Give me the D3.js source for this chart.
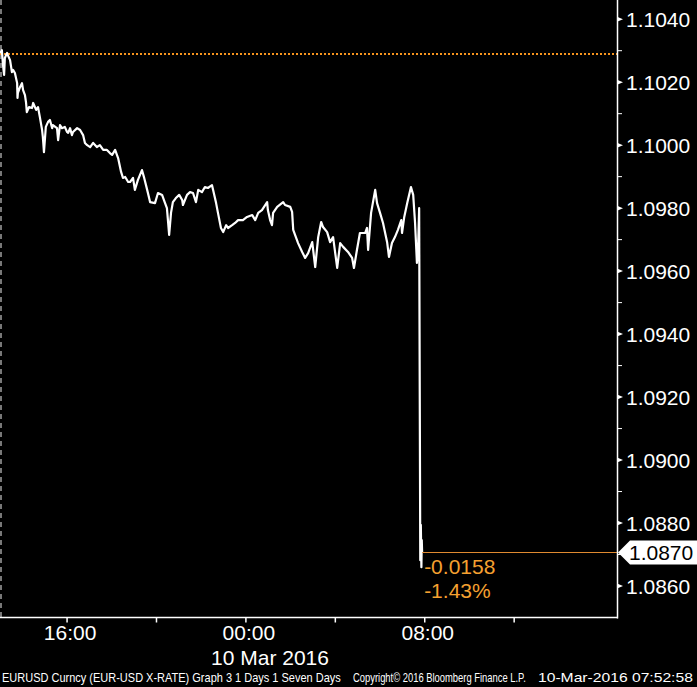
<!DOCTYPE html>
<html>
<head>
<meta charset="utf-8">
<script src="https://cdn.jsdelivr.net/npm/d3@7"></script>
<style>
  html, body { margin: 0; padding: 0; background: #000; }
  svg { display: block; }
</style>
</head>
<body>
<script>
// ---- Data ----
// minutes after 2016-03-09 13:00 (terminal local time)
const minutes = [0,5,8,11,13,19,21,27,32,35,
40,46,47,48,54,59,62,67,70,72,
78,86,89,97,102,107,113,115,118,123,
129,134,140,142,153,156,161,166,174,180,
183,188,193,196,207,215,223,228,234,242,
250,260,268,277,287,295,301,309,317,325,
330,336,344,349,357,362,370,381,387,395,
403,416,424,435,443,448,454,459,464,472,
481,489,491,502,510,518,526,532,542,550,
558,569,572,580,585,593,599,607,612,623,
631,639,652,663,677,685,693,703,717,719,
725,730,733,744,760,765,779,784,787,800,
811,819,827,838,846,854,862,867,878,886,
894,905,913,921,934,945,950,958,966,980,
985,988,996,1007,1012,1020,1028,1039,1044,1052,
1060,1068,1077,1079,1085,1093,1103,1109,1114,1119,
1122,1125,1128,1129.5,1131,1132,1133];

const rates = [1.10293,1.10302,1.10255,1.10223,1.10277,1.10293,1.10286,1.10270,1.10232,1.10239,
1.10229,1.10197,1.10150,1.10166,1.10185,1.10197,1.10175,1.10159,1.10134,1.10105,
1.10121,1.10118,1.10134,1.10112,1.10121,1.10089,1.10048,1.10026,1.09978,1.10058,
1.10074,1.10080,1.10054,1.10064,1.10054,1.10016,1.10064,1.10054,1.10058,1.10042,
1.10039,1.10054,1.10032,1.10042,1.10054,1.10048,1.10032,1.10007,1.10000,1.09994,
1.10007,1.09994,1.10000,1.09985,1.09985,1.09975,1.09969,1.09985,1.09959,1.09915,
1.09896,1.09899,1.09883,1.09883,1.09896,1.09858,1.09889,1.09921,1.09896,1.09858,
1.09819,1.09816,1.09848,1.09842,1.09816,1.09800,1.09715,1.09785,1.09819,1.09832,
1.09842,1.09826,1.09810,1.09842,1.09851,1.09848,1.09819,1.09858,1.09851,1.09867,
1.09864,1.09873,1.09858,1.09816,1.09785,1.09737,1.09724,1.09746,1.09737,1.09746,
1.09753,1.09762,1.09762,1.09772,1.09778,1.09762,1.09785,1.09794,1.09819,1.09794,
1.09762,1.09746,1.09785,1.09804,1.09819,1.09810,1.09804,1.09788,1.09731,1.09689,
1.09661,1.09642,1.09657,1.09692,1.09613,1.09708,1.09756,1.09740,1.09724,1.09692,
1.09708,1.09610,1.09689,1.09677,1.09661,1.09642,1.09610,1.09667,1.09721,1.09721,
1.09737,1.09667,1.09785,1.09858,1.09816,1.09785,1.09753,1.09692,1.09645,1.09689,
1.09708,1.09731,1.09762,1.09721,1.09772,1.09816,1.09867,1.09842,1.09753,1.09626,
1.09667,1.09800,1.08682,1.08794,1.08660,1.08746,1.08705];

const prevClose = 1.1029;
const lastLabel = "1.0870";
const changeLabels = ["-0.0158", "-1.43%"];

const yMajorTicks = [1.0860,1.0880,1.0900,1.0920,1.0940,1.0960,1.0980,1.1000,1.1020,1.1040];
const yMinorTicks = [1.0870,1.0890,1.0910,1.0930,1.0950,1.0970,1.0990,1.1010,1.1030];

const xTickTimes = ["2016-03-09T16:00","2016-03-09T20:00","2016-03-10T00:00","2016-03-10T04:00","2016-03-10T08:00","2016-03-10T12:00"];
const xLabelTimes = ["2016-03-09T16:00","2016-03-10T00:00","2016-03-10T08:00"];
const xLabels = ["16:00","00:00","08:00"];
const dateLabel = "10 Mar 2016";
const footer = ["EURUSD Curncy (EUR-USD X-RATE) Graph 3 1 Days 1 Seven Days",
                "Copyright\u00A9 2016 Bloomberg Finance L.P.",
                "10-Mar-2016 07:52:58"];

// ---- Drawing ----
const W = 697, H = 687;
const plotR = 617, plotB = 617.5;
const FONT = "'Liberation Sans', Arial, sans-serif";
const orange = "#f5a030";

const base = new Date(2016, 2, 9, 13, 0).getTime();
const data = minutes.map((m, i) => ({ t: new Date(base + m * 60000), v: rates[i] }));
const parse = s => new Date(s);

const x = d3.scaleTime()
  .domain([new Date(2016, 2, 9, 13, 0), new Date(2016, 2, 10, 16, 36)])
  .range([0, plotR]);
const y = d3.scaleLinear().domain([1.0850, 1.10461]).range([plotB, 0]);

const svg = d3.select("body").append("svg").attr("width", W).attr("height", H);
svg.append("rect").attr("width", W).attr("height", H).attr("fill", "#000");

// left dashed boundary
svg.append("line").attr("x1", 1).attr("x2", 1).attr("y1", 0).attr("y2", plotB)
  .attr("stroke", "#a0a0a0").attr("stroke-width", 1.5).attr("stroke-dasharray", "5,4");

// previous close dotted line
const pcy = Math.round(y(prevClose));
svg.append("line").attr("x1", 0).attr("x2", plotR).attr("y1", pcy).attr("y2", pcy)
  .attr("stroke", "#f7941d").attr("stroke-width", 2).attr("stroke-dasharray", "2,2");

// price line
const line = d3.line().x(d => x(d.t)).y(d => y(d.v));
svg.append("path").datum(data).attr("d", line)
  .attr("fill", "none").attr("stroke", "#fff").attr("stroke-width", 2.2)
  .attr("stroke-linejoin", "round");

// last price line
const last = data[data.length - 1];
const lpy = Math.round(y(last.v)) - 0.5;
svg.append("line").attr("x1", x(last.t)).attr("x2", plotR + 1)
  .attr("y1", lpy).attr("y2", lpy)
  .attr("stroke", "#e08a30").attr("stroke-width", 1);

// change annotations
changeLabels.forEach((s, i) => {
  svg.append("text").attr("x", x(last.t) + 2).attr("y", y(last.v) + 21 + i * 24)
    .attr("fill", orange).attr("font-family", FONT).attr("font-size", 21).text(s);
});

// axes lines
svg.append("line").attr("x1", plotR + 0.5).attr("x2", plotR + 0.5).attr("y1", 0).attr("y2", plotB + 1)
  .attr("stroke", "#fff").attr("stroke-width", 1.5);
svg.append("line").attr("x1", 0).attr("x2", plotR + 1).attr("y1", plotB).attr("y2", plotB)
  .attr("stroke", "#fff").attr("stroke-width", 1.5);

// y ticks
yMinorTicks.forEach(v => {
  svg.append("line").attr("x1", plotR).attr("x2", plotR + 5).attr("y1", y(v)).attr("y2", y(v))
    .attr("stroke", "#fff").attr("stroke-width", 1);
});
yMajorTicks.forEach(v => {
  const yy = y(v);
  svg.append("path").attr("d", `M${plotR},${yy - 2.5}L${plotR + 6},${yy}L${plotR},${yy + 2.5}Z`)
    .attr("fill", "#fff");
  svg.append("text").attr("x", 626).attr("y", yy).attr("dy", "0.36em")
    .attr("fill", "#fff").attr("font-family", FONT).attr("font-size", 21)
    .text(d3.format(".4f")(v));
});

// last price label box
const ly = lpy;
svg.append("path")
  .attr("d", `M618,${ly}L630,${ly - 12}L697,${ly - 12}L697,${ly + 12}L630,${ly + 12}Z`)
  .attr("fill", "#fff");
svg.append("text").attr("x", 629).attr("y", ly).attr("dy", "0.36em")
  .attr("fill", "#000").attr("font-family", FONT).attr("font-size", 21).text(lastLabel);

// x ticks
xTickTimes.forEach(s => {
  const xx = x(parse(s));
  svg.append("line").attr("x1", xx).attr("x2", xx).attr("y1", plotB).attr("y2", plotB + 5)
    .attr("stroke", "#fff").attr("stroke-width", 1.5);
});
xLabelTimes.forEach((s, i) => {
  svg.append("text").attr("x", x(parse(s)) + 3).attr("y", 640).attr("text-anchor", "middle")
    .attr("fill", "#fff").attr("font-family", FONT).attr("font-size", 21).text(xLabels[i]);
});
svg.append("text").attr("x", 270).attr("y", 665).attr("text-anchor", "middle")
  .attr("fill", "#fff").attr("font-family", FONT).attr("font-size", 21).text(dateLabel);

// footer (condensed by horizontal scaling to the reference widths)
const fpos = [[2, 339], [353, 173], [538, 155]];
footer.forEach((s, i) => {
  const g = svg.append("g");
  const t = g.append("text").attr("x", 0).attr("y", 0)
    .attr("fill", "#fff").attr("font-family", FONT).attr("font-size", 12.5).text(s);
  const w = t.node().getComputedTextLength();
  g.attr("transform", `translate(${fpos[i][0]},682) scale(${fpos[i][1] / w},1)`);
});
</script>
</body>
</html>
